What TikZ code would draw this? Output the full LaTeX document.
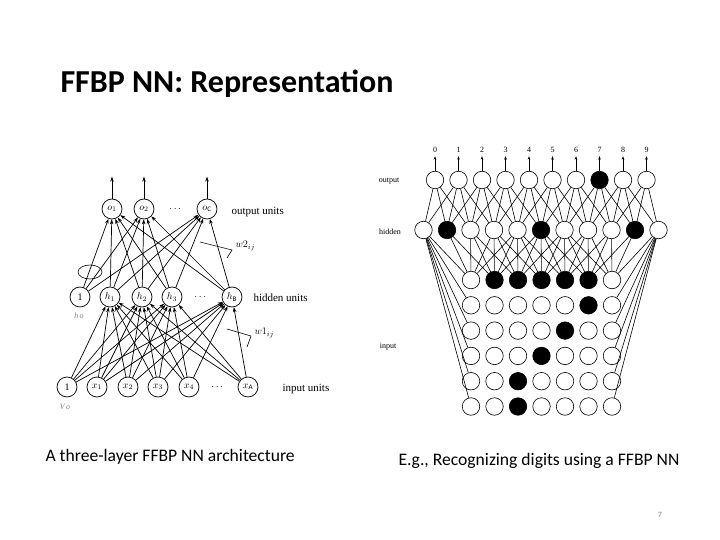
\documentclass[tikz,border=0pt]{standalone}
\usepackage{amsmath,amssymb}
\usepackage{fontspec}
\setmainfont{Carlito}
\newfontfamily\scanfont{Liberation Serif}
\usetikzlibrary{arrows.meta,calc}

\begin{document}
\begin{tikzpicture}[x=1pt,y=-1pt,
  unit/.style={draw,circle,minimum size=20pt,inner sep=0pt,line width=0.7pt,font=\scanfont\fontsize{10}{11}\selectfont},
  arr/.style={-{Stealth[length=5pt,width=3.6pt]},line width=0.7pt},
  tag/.style={font=\scanfont\fontsize{11}{12}\selectfont,anchor=west},
  cell/.style={draw,circle,minimum size=17.5pt,inner sep=0pt,line width=0.6pt},
  on/.style={fill=black},
  off/.style={},
  link/.style={line width=0.6pt},
  small/.style={font=\scanfont\fontsize{8}{9}\selectfont}]
\useasboundingbox (0,0) rectangle (720,540);

% title and captions
\node[anchor=base west,font=\fontsize{32}{36}\selectfont\bfseries] (title) at (57,93) {FFBP NN: Representation};
\node[anchor=base west,font=\fontsize{17.6}{20}\selectfont] (capl) at (42,461) {A three-layer FFBP NN architecture};
\node[anchor=base west,font=\fontsize{17.6}{20}\selectfont] (capr) at (395,465) {E.g., Recognizing digits using a FFBP NN};
\node[font=\fontsize{8}{9}\selectfont,text=gray] (page) at (660,515) {7};

% left: three-layer network
\foreach \n/\x/\t in {o1/112/{$o_1$},o2/144/{$o_2$},oC/207/{$o_{\mathrm{C}}$}} {
  \node[unit] (\n) at (\x,209) {\t};
  \path (\n.north) ++(0,-22) coordinate (\n-up);
  \draw[arr] (\n) -- (\n-up);
}
\foreach \n/\x/\t in {hb/80/1,h1/110/{$h_1$},h2/142/{$h_2$},h3/172/{$h_3$},hB/232/{$h_{\mathrm{B}}$}}
  \node[unit] (\n) at (\x,297) {\t};
\foreach \n/\x/\t in {xb/67/1,x1/97/{$x_1$},x2/128/{$x_2$},x3/158/{$x_3$},x4/189/{$x_4$},xA/248/{$x_{\mathrm{A}}$}}
  \node[unit] (\n) at (\x,387) {\t};
\node (odots) at (176,209) {$\cdots$};
\node (hdots) at (201,297) {$\cdots$};
\node (xdots) at (218,387) {$\cdots$};
\node[tag] (otag) at (228,212) {output units};
\node[tag] (htag) at (250,298) {hidden units};
\node[tag] (xtag) at (279,389) {input units};
\node[font=\scanfont\fontsize{8}{9}\selectfont\itshape,text=gray] (h0) at (79,316) {h\,o};
\node[font=\scanfont\fontsize{8}{9}\selectfont\itshape,text=gray] (x0) at (65,407) {V\,o};

\foreach \a in {hb,h1,h2,h3,hB}
  \foreach \b in {o1,o2,oC}
    \draw[arr] (\a) -- (\b);
\foreach \a in {xb,x1,x2,x3,x4,xA}
  \foreach \b in {h1,h2,h3,hB}
    \draw[arr] (\a) -- (\b);
\draw[line width=0.6pt] (90,272) ellipse (12pt and 7pt);

% weight labels
\coordinate (w2a) at (200,242);
\coordinate (w2b) at (232,250);
\coordinate (w2c) at (227,258);
\draw[line width=0.6pt] (w2a) -- (w2b) -- (w2c);
\node[font=\scanfont\fontsize{10}{11}\selectfont,anchor=west] (w2) at (232,246) {$w2_{ij}$};
\coordinate (w1a) at (227,329);
\coordinate (w1b) at (251,336);
\coordinate (w1c) at (247,347);
\draw[line width=0.6pt] (w1a) -- (w1b) -- (w1c);
\node[font=\scanfont\fontsize{10}{11}\selectfont,anchor=west] (w1) at (251,333) {$w1_{ij}$};

% right: digit recogniser
\foreach \i in {0,...,9} {
  \ifnum\i=7 \def\st{on}\else\def\st{off}\fi
  \node[cell,\st] (out\i) at ({435+23.5*\i},180) {};
  \node[small] (d\i) at ({435+23.5*\i},150) {\i};
  \draw[-{Stealth[length=3.5pt,width=2.6pt]},line width=0.6pt] (out\i) -- (d\i);
}
\foreach \j/\st in {0/off,1/on,2/off,3/off,4/off,5/on,6/off,7/off,8/off,9/on,10/off}
  \node[cell,\st] (hid\j) at ({423.5+23.5*\j},230) {};
\foreach \r/\bits in {0/{0,1,1,1,1,1,0},1/{0,0,0,0,0,1,0},2/{0,0,0,0,1,0,0},
                      3/{0,0,0,1,0,0,0},4/{0,0,1,0,0,0,0},5/{0,0,1,0,0,0,0}}
  \foreach \b [count=\c from 0] in \bits {
    \ifnum\b=1 \def\st{on}\else\def\st{off}\fi
    \node[cell,\st] (in\r\c) at ({471+23.5*\c},{280+25.3*\r}) {};
  }
\node[small] (lout) at (389,181) {output};
\node[small] (lhid) at (390,232) {hidden};
\node[small] (lin) at (388,347) {input};

% output to hidden
\foreach \i in {0,...,9}
  \foreach \d in {-1,0,1,2} {
    \pgfmathtruncatemacro\j{\i+\d}
    \ifnum\j>-1 \ifnum\j<11 \draw[link] (out\i) -- (hid\j); \fi\fi
  }
% hidden to input
\foreach \j in {1,...,9}
  \foreach \d in {-4,-3,-2,-1,0} {
    \pgfmathtruncatemacro\k{\j+\d}
    \ifnum\k>-1 \ifnum\k<7 \draw[link] (hid\j) -- (in0\k); \fi\fi
  }
\foreach \r in {0,...,5} {
  \draw[link] (hid0) -- (in\r0);
  \draw[link] (hid10) -- (in\r6);
}
\end{tikzpicture}
\end{document}
